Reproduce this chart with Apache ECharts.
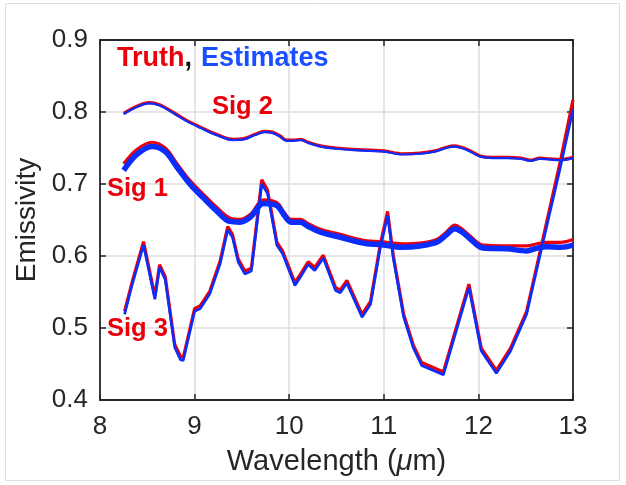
<!DOCTYPE html>
<html>
<head>
<meta charset="utf-8">
<title>Emissivity</title>
<script src="https://cdn.jsdelivr.net/npm/echarts@6/dist/echarts.min.js"></script>
<style>
  html, body { margin: 0; padding: 0; background: #ffffff; }
  #chart { width: 626px; height: 485px; }
</style>
</head>
<body>
<div id="chart"></div>
<script>
// Wavelength samples (µm) and emissivity for each signature
const sig1Wave  = [8.25, 8.39, 8.55, 8.69, 8.81, 8.95, 9.09, 9.23, 9.37, 9.48, 9.59, 9.73, 9.87, 9.95, 10.02, 10.12, 10.2, 10.33, 10.54, 10.82, 10.96, 11.2, 11.38, 11.56, 11.66, 11.75, 11.83, 11.91, 12.05, 12.3, 12.51, 12.62, 12.72, 12.87, 13.0];
const sig1Truth = [0.728, 0.748, 0.758, 0.750, 0.729, 0.705, 0.686, 0.668, 0.653, 0.651, 0.658, 0.678, 0.674, 0.660, 0.651, 0.651, 0.645, 0.637, 0.630, 0.621, 0.620, 0.617, 0.618, 0.623, 0.633, 0.643, 0.637, 0.628, 0.615, 0.614, 0.614, 0.617, 0.619, 0.619, 0.623];
const sig1Est   = [0.719, 0.741, 0.752, 0.745, 0.724, 0.700, 0.681, 0.663, 0.648, 0.647, 0.654, 0.673, 0.670, 0.656, 0.647, 0.647, 0.641, 0.633, 0.626, 0.617, 0.616, 0.612, 0.614, 0.619, 0.629, 0.638, 0.633, 0.624, 0.611, 0.610, 0.607, 0.611, 0.613, 0.612, 0.615];

const sig2Wave  = [8.25, 8.39, 8.52, 8.63, 8.78, 8.92, 9.06, 9.23, 9.41, 9.52, 9.64, 9.74, 9.82, 9.9, 9.97, 10.05, 10.12, 10.2, 10.33, 10.5, 10.68, 10.85, 11.0, 11.2, 11.38, 11.54, 11.66, 11.74, 11.82, 11.9, 12.02, 12.15, 12.3, 12.45, 12.55, 12.65, 12.75, 12.87, 13.0];
const sig2Truth = [0.798, 0.808, 0.813, 0.810, 0.799, 0.788, 0.779, 0.769, 0.762, 0.763, 0.769, 0.773, 0.772, 0.767, 0.761, 0.761, 0.762, 0.758, 0.753, 0.750, 0.748, 0.747, 0.746, 0.742, 0.743, 0.746, 0.751, 0.753, 0.751, 0.747, 0.739, 0.737, 0.737, 0.736, 0.733, 0.736, 0.735, 0.734, 0.737];
const sig2Est   = [0.797, 0.807, 0.812, 0.809, 0.798, 0.787, 0.778, 0.768, 0.761, 0.762, 0.768, 0.772, 0.771, 0.766, 0.760, 0.760, 0.761, 0.757, 0.752, 0.749, 0.747, 0.746, 0.745, 0.741, 0.742, 0.745, 0.750, 0.752, 0.750, 0.746, 0.738, 0.736, 0.736, 0.735, 0.732, 0.735, 0.734, 0.733, 0.736];

const sig3Wave  = [8.26, 8.34, 8.46, 8.58, 8.63, 8.69, 8.79, 8.85, 8.88, 9.0, 9.06, 9.16, 9.27, 9.35, 9.40, 9.46, 9.53, 9.6, 9.71, 9.77, 9.87, 9.93, 10.06, 10.13, 10.2, 10.27, 10.36, 10.49, 10.54, 10.61, 10.77, 10.86, 10.96, 11.04, 11.1, 11.21, 11.31, 11.4, 11.63, 11.9, 12.03, 12.19, 12.34, 12.51, 12.65, 12.87, 13.0];
const sig3Truth = [0.523, 0.564, 0.620, 0.544, 0.588, 0.571, 0.477, 0.461, 0.459, 0.527, 0.531, 0.551, 0.593, 0.641, 0.630, 0.596, 0.579, 0.583, 0.706, 0.692, 0.619, 0.607, 0.563, 0.577, 0.592, 0.584, 0.601, 0.556, 0.553, 0.566, 0.519, 0.537, 0.614, 0.662, 0.601, 0.519, 0.477, 0.452, 0.439, 0.561, 0.472, 0.441, 0.472, 0.523, 0.605, 0.734, 0.817];
const sig3Est   = [0.519, 0.560, 0.615, 0.540, 0.584, 0.567, 0.473, 0.456, 0.455, 0.523, 0.527, 0.547, 0.589, 0.636, 0.626, 0.592, 0.575, 0.579, 0.700, 0.687, 0.615, 0.603, 0.559, 0.573, 0.588, 0.580, 0.597, 0.552, 0.549, 0.562, 0.515, 0.533, 0.609, 0.656, 0.597, 0.515, 0.473, 0.448, 0.435, 0.556, 0.468, 0.437, 0.468, 0.519, 0.600, 0.725, 0.803];

const xMin = 8, xMax = 13, xStep = 1;
const yMin = 0.4, yMax = 0.9, yStep = 0.1;

const RED = '#e8000b';
const BLUE = '#0a2dff';
const INK = '#262626';
const FONT = '"Liberation Sans", Arial, Helvetica, sans-serif';

function pairs(wave, vals) {
  return wave.map((w, i) => [w, vals[i]]);
}

function truthSeries(wave, vals, smooth) {
  return {
    type: 'line', data: pairs(wave, vals), symbol: 'none', smooth: smooth,
    lineStyle: { color: RED, width: 3.2 }, z: 3, silent: true, animation: false
  };
}
function estSeries(wave, vals, width, smooth) {
  return {
    type: 'line', data: pairs(wave, vals), symbol: 'none', smooth: smooth,
    lineStyle: { color: BLUE, width: width }, z: 4, silent: true, animation: false
  };
}

const chart = echarts.init(document.getElementById('chart'), null, { renderer: 'canvas' });

const tickStyle = { show: true, inside: true, length: 6, lineStyle: { color: INK, width: 1.5 } };
const lineStyleAxis = { show: true, onZero: false, lineStyle: { color: INK, width: 1.8 } };

chart.setOption({
  backgroundColor: '#ffffff',
  animation: false,
  grid: { left: 100, right: 53, top: 40, bottom: 85, containLabel: false },
  xAxis: [
    {
      type: 'value', min: xMin, max: xMax, interval: xStep, position: 'bottom',
      name: '{n|Wavelength (}{i|μ}{n|m)}', nameLocation: 'middle', nameGap: 47,
      nameTextStyle: {
        rich: {
          n: { fontFamily: FONT, fontSize: 29, color: INK },
          i: { fontFamily: FONT, fontSize: 29, color: INK, fontStyle: 'italic' }
        }
      },
      axisLine: lineStyleAxis, axisTick: tickStyle,
      axisLabel: { fontFamily: FONT, fontSize: 26, color: INK, margin: 14 },
      splitLine: { show: true, lineStyle: { color: '#dcdcdc', width: 1.5 } }
    },
    {
      type: 'value', min: xMin, max: xMax, interval: xStep, position: 'top',
      axisLine: lineStyleAxis, axisTick: tickStyle,
      axisLabel: { show: false }, splitLine: { show: false }
    }
  ],
  yAxis: [
    {
      type: 'value', min: yMin, max: yMax, interval: yStep, position: 'left',
      name: 'Emissivity', nameLocation: 'middle', nameGap: 56,
      nameTextStyle: { fontFamily: FONT, fontSize: 28, color: INK },
      axisLine: lineStyleAxis, axisTick: tickStyle,
      axisLabel: { fontFamily: FONT, fontSize: 26, color: INK, margin: 12,
        formatter: v => v.toFixed(1) },
      splitLine: { show: true, lineStyle: { color: '#dcdcdc', width: 1.5 } }
    },
    {
      type: 'value', min: yMin, max: yMax, interval: yStep, position: 'right',
      axisLine: lineStyleAxis, axisTick: tickStyle,
      axisLabel: { show: false }, splitLine: { show: false }
    }
  ],
  series: [
    truthSeries(sig1Wave, sig1Truth, 0.35), estSeries(sig1Wave, sig1Est, 5.5, 0.35),
    truthSeries(sig2Wave, sig2Truth, 0.35), estSeries(sig2Wave, sig2Est, 2.2, 0.35),
    truthSeries(sig3Wave, sig3Truth, false), estSeries(sig3Wave, sig3Est, 2.6, false)
  ],
  graphic: [
    {
      type: 'rect', shape: { x: 5.5, y: 3.5, width: 614, height: 477 },
      style: { fill: 'none', stroke: '#dedede', lineWidth: 1 }, silent: true, z: 0
    },
    {
      type: 'text', left: 117, top: 45, z: 10,
      style: {
        text: '{r|Truth}{k|,}{b|Estimates}',
        rich: {
          r: { fontFamily: FONT, fontSize: 27, fontWeight: 'bold', fill: RED },
          k: { fontFamily: FONT, fontSize: 27, fontWeight: 'bold', fill: '#111111', padding: [0, 9, 0, 0] },
          b: { fontFamily: FONT, fontSize: 27, fontWeight: 'bold', fill: '#1a4fff' }
        }
      }
    },
    { type: 'text', left: 212, top: 94, z: 10,
      style: { text: 'Sig 2', fontFamily: FONT, fontSize: 25.5, fontWeight: 'bold', fill: RED } },
    { type: 'text', left: 107, top: 176, z: 10,
      style: { text: 'Sig 1', fontFamily: FONT, fontSize: 25.5, fontWeight: 'bold', fill: RED } },
    { type: 'text', left: 107, top: 316, z: 10,
      style: { text: 'Sig 3', fontFamily: FONT, fontSize: 25.5, fontWeight: 'bold', fill: RED } }
  ]
});
</script>
</body>
</html>
